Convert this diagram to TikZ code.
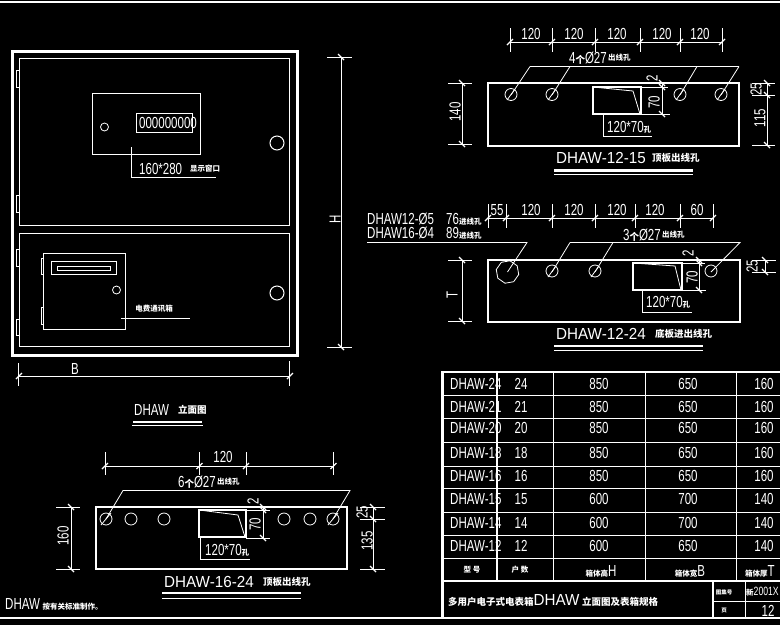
\documentclass[tikz,border=0pt]{standalone}
\usepackage{fontspec}
\usetikzlibrary{shapes.geometric}
\newfontfamily\cad[FakeStretch=0.72]{Liberation Sans}
\newfontfamily\cadw[FakeStretch=0.95]{Liberation Sans}
\newfontfamily\cjk{Noto Sans CJK SC}
\newcommand{\hticks}[2]{\foreach \tx in {#2} {\draw[white, line width=1.2pt] (\tx-3,#1+3) -- (\tx+3,#1-3);}}
\newcommand{\vticks}[2]{\foreach \ty in {#2} {\draw[white, line width=1.2pt] (#1-3,\ty-3) -- (#1+3,\ty+3);}}
\newcommand{\zh}[1]{{\cjk\bfseries\fontsize{7.5}{8}\selectfont #1}}
\newcommand{\zhb}[1]{{\cjk\bfseries\fontsize{9.5}{10}\selectfont #1}}
\newcommand{\zhs}[1]{{\cjk\bfseries\fontsize{5.5}{6}\selectfont #1}}
\newcommand{\gechar}{\zhb{个}}
\begin{document}
\begin{tikzpicture}[
                x=1pt,
                y=-1pt,
                thin line/.style={draw=white, line width=0.8pt},
                mid line/.style={draw=white, line width=1pt},
                heavy line/.style={draw=white, line width=2pt},
                hole/.style={draw=white, line width=0.8pt},
                every node/.style={
                    text=white,
                    inner sep=0,
                    font=\cad\fontsize{16}{16}\selectfont
                },
                wide/.style={font=\cadw\fontsize{16}{16}\selectfont}
            ]
            \useasboundingbox (0,0) rectangle (780,625);
            \fill[black] (0,0) rectangle (780,625);
            \begin{scope}
            \clip (0,0) rectangle (780,625);
            \draw[draw=white, line width=2.4pt] (0,2.2) -- (780,2.2);
            \draw[heavy line] (0,618) -- (780,618);

            % 立面图
            \draw[draw=white, line width=3pt] (12,51) rectangle (297,355);
            \draw[mid line] (19,58) rectangle (289,225);
            \draw[mid line] (19,233) rectangle (289,346);
            \foreach \hy/\hz in {70/87,195/212,249/266,319/335} {
                \draw[thin line] (16,\hy) rectangle (19,\hz);
            }
            \draw[mid line] (92,93) rectangle (200,154);
            \draw[mid line] (136,113) rectangle (192,132);
            \node (meter) at (168,123) {000000000};
            \draw[hole] (104.5,127) circle (4);
            \draw[mid line] (277,143) circle (7);
            \draw[thin line] (131,147) -- (131,177) -- (216,177);
            \node[anchor=west] (winsize) at (139,169) {160*280};
            \node[anchor=west] (wintext) at (190,169) {\zh{显示窗口}};
            \draw[mid line] (43,253) rectangle (125,329);
            \foreach \hy/\hz in {258/274,307/324} {
                \draw[thin line] (41,\hy) rectangle (43,\hz);
            }
            \draw[mid line] (51,261) rectangle (116,274);
            \draw[thin line] (57,266) rectangle (110,270);
            \draw[hole] (116.5,290) circle (4);
            \draw[mid line] (277,293) circle (7);
            \draw[thin line] (121,318) -- (190,318);
            \node (boxtext) at (154,309) {\zh{电费通讯箱}};
            \draw[thin line] (341,57) -- (341,347);
            \draw[thin line] (327,57) -- (352,57);
            \draw[thin line] (327,347) -- (352,347);
            \vticks{341}{57,347}
            \node[rotate=90] (dimH) at (335,219) {H};
            \draw[thin line] (18,376) -- (290,376);
            \draw[thin line] (18,363) -- (18,386);
            \draw[thin line] (289.5,361) -- (289.5,386);
            \hticks{376}{19,290}
            \node (dimB) at (75,369) {B};
            \node[anchor=west] (elev) at (134,410) {DHAW};
            \node[anchor=west] (elevzh) at (178,410) {\zhb{立面图}};
            \draw[draw=white, line width=2.5pt] (133,422) -- (202,422);
            \draw[thin line] (132,425.5) -- (203,425.5);

            % 16-24 顶板
            \draw[heavy line] (96,507) rectangle (347,569);
            \draw[thin line] (105,466) -- (333.5,466);
            \foreach \ex in {105,199.5,246,333.5} {
                \draw[thin line] (\ex,452) -- (\ex,475);
            }
            \hticks{466}{105,199.5,246,333.5}
            \node (a120) at (223,457) {120};
            \node[anchor=east] (anote) at (216,482) {6\gechar Ø27};
            \node[anchor=west] (anotezh) at (217,482) {\zh{出线孔}};
            \draw[thin line] (106,519) -- (123,490.5) -- (350,490.5) -- (333,519);
            \foreach \ax in {106,131,164,284,310,333} {
                \draw[hole] (\ax,519) circle (6);
            }
            \draw[thin line] (101,525) -- (111,513);
            \draw[thin line] (328,525) -- (338,513);
            \draw[heavy line] (199,510) rectangle (246,537);
            \draw[thin line] (199,510) -- (238,515) -- (245,537);
            \draw[thin line] (263,507) -- (263,538);
            \draw[thin line] (246,510) -- (270,510);
            \draw[thin line] (246,538) -- (270,538);
            \vticks{263}{507,510,538}
            \node[rotate=90] (a2) at (253,501) {2};
            \node[rotate=90] (a70) at (255,524) {70};
            \draw[thin line] (200,537) -- (200,559) -- (250,559);
            \node[anchor=west] (asize) at (205,550) {120*70\zh{孔}};
            \draw[thin line] (71,507) -- (71,569);
            \draw[thin line] (56,507) -- (80,507);
            \draw[thin line] (56,569) -- (80,569);
            \vticks{71}{507,569}
            \node[rotate=90] (a160) at (63,536) {160};
            \draw[thin line] (373,507) -- (373,569);
            \draw[thin line] (360,507) -- (385,507);
            \draw[thin line] (360,519) -- (385,519);
            \draw[thin line] (360,569) -- (385,569);
            \vticks{373}{507,519,569}
            \node[rotate=90] (a25) at (362,512) {25};
            \node[rotate=90] (a135) at (367,541) {135};
            \node[wide,anchor=west] (atitle) at (164,582) {DHAW-16-24};
            \node[anchor=west] (atitlezh) at (263,582) {\zhb{顶板出线孔}};
            \draw[draw=white, line width=2.5pt] (162,593) -- (301,593);
            \draw[thin line] (162,598) -- (301,598);
            \node[anchor=east] (notehead) at (3,604) {\zh{注：}};
            \node[anchor=west] (note) at (5,604) {DHAW\,\zh{按有关标准制作。}};

            % 12-15 顶板
            \draw[heavy line] (488,83) rectangle (739,146);
            \draw[thin line] (510,42) -- (722,42);
            \foreach \ex in {510,552,595,640,680,722} {
                \draw[thin line] (\ex,28) -- (\ex,52);
            }
            \hticks{42}{510,552,595,640,680,722}
            \foreach \lx/\ln in {531/b,574/c,617/d,662/e,700/f} {
                \node (top\ln) at (\lx,34) {120};
            }
            \node[anchor=east] (bnote) at (607,58) {4\gechar Ø27};
            \node[anchor=west] (bnotezh) at (608,58) {\zh{出线孔}};
            \draw[thin line] (530,66.5) -- (739,66.5);
            \foreach \hx/\dx in {511/530,552/570,680/697,721/739} {
                \draw[thin line] (\hx,95) -- (\dx,66.5);
                \draw[hole] (\hx,94.5) circle (6);
                \draw[thin line] (\hx-4,100) -- (\hx+4,89);
            }
            \draw[heavy line] (593,87) rectangle (641,114);
            \draw[thin line] (593,87) -- (633,91) -- (640,114);
            \draw[thin line] (662,83) -- (662,114);
            \draw[thin line] (642,87) -- (668,87);
            \draw[thin line] (642,114) -- (670,114);
            \vticks{662}{83,87,114}
            \node[rotate=90] (b2) at (652,78) {2};
            \node[rotate=90] (b70) at (654,102) {70};
            \draw[thin line] (603,114) -- (603,136) -- (652,136);
            \node[anchor=west] (bsize) at (607,127) {120*70\zh{孔}};
            \draw[thin line] (462,83) -- (462,144);
            \draw[thin line] (448,83) -- (472,83);
            \draw[thin line] (448,144) -- (472,144);
            \vticks{462}{83,144}
            \node[rotate=90] (b140) at (455,112) {140};
            \draw[thin line] (767,83) -- (767,145);
            \draw[thin line] (752,83) -- (775,83);
            \draw[thin line] (752,95) -- (775,95);
            \draw[thin line] (752,145) -- (775,145);
            \vticks{767}{83,95,145}
            \node[rotate=90] (b25) at (756,89) {25};
            \node[rotate=90] (b115) at (760,118) {115};
            \node[wide,anchor=west] (btitle) at (556,158) {DHAW-12-15};
            \node[anchor=west] (btitlezh) at (652,158) {\zhb{顶板出线孔}};
            \draw[draw=white, line width=2.5pt] (554,170.5) -- (693,170.5);
            \draw[thin line] (554,174) -- (693,174);

            % 12-24 底板
            \node[anchor=west] (c1) at (367,219) {DHAW12-Ø5};
            \node[anchor=west] (c2) at (367,233) {DHAW16-Ø4};
            \node[anchor=west] (c3) at (446,219) {76\zh{进线孔}};
            \node[anchor=west] (c4) at (446,233) {89\zh{进线孔}};
            \draw[heavy line] (488,260) rectangle (740,322);
            \draw[thin line] (488,218) -- (713,218);
            \foreach \ex in {488,506,552,595,635,680,713} {
                \draw[thin line] (\ex,204) -- (\ex,228);
            }
            \hticks{218}{488,506,552,595,635,680,713}
            \foreach \lx/\lt/\ln in {497/55/a,531/120/b,574/120/c,617/120/d,655/120/e,697/60/f} {
                \node (cdim\ln) at (\lx,210) {\lt};
            }
            \node[anchor=east] (cnote) at (661,235) {3\gechar Ø27};
            \node[anchor=west] (cnotezh) at (662,235) {\zh{出线孔}};
            \node[regular polygon, regular polygon sides=8, shape border rotate=10, hole, minimum size=23pt] (bighole) at (507.5,272) {};
            \draw[thin line] (367,242.5) -- (527,242.5) -- (bighole.center);
            \draw[thin line] (570,242.5) -- (740,242.5) -- (711,272);
            \foreach \hx/\dx in {552/570,595/613} {
                \draw[thin line] (\hx,272) -- (\dx,242.5);
                \draw[hole] (\hx,271) circle (6);
                \draw[thin line] (\hx-4,277) -- (\hx+4,266);
            }
            \draw[hole] (711,271) circle (6);
            \draw[heavy line] (633,263) rectangle (682,290);
            \draw[thin line] (633,263) -- (675,266) -- (681,290);
            \draw[thin line] (699,260) -- (699,290);
            \draw[thin line] (683,263) -- (705,263);
            \draw[thin line] (683,290) -- (706,290);
            \vticks{699}{260,263,290}
            \node[rotate=90] (c2mm) at (688,253) {2};
            \node[rotate=90] (c70) at (692,277) {70};
            \draw[thin line] (642,291) -- (642,312) -- (692,312);
            \node[anchor=west] (csize) at (646,302) {120*70\zh{孔}};
            \draw[thin line] (462,260) -- (462,321);
            \draw[thin line] (448,260) -- (472,260);
            \draw[thin line] (448,321) -- (472,321);
            \vticks{462}{260,321}
            \node[rotate=90] (cT) at (452,295) {T};
            \draw[thin line] (765,260) -- (765,272);
            \draw[thin line] (752,260) -- (776,260);
            \draw[thin line] (752,272) -- (776,272);
            \vticks{765}{260,272}
            \node[rotate=90] (c25) at (752,266) {25};
            \node[wide,anchor=west] (ctitle) at (556,334) {DHAW-12-24};
            \node[anchor=west] (ctitlezh) at (655,334) {\zhb{底板进出线孔}};
            \draw[draw=white, line width=2.5pt] (554,346) -- (703,346);
            \draw[thin line] (554,350) -- (703,350);

            % 规格表
            \draw[thin line] (441,372) -- (441,618);
            \draw[draw=white, line width=2.5pt] (441,372) -- (780,372);
            \foreach \ly in {395,418,442,466,488,512,535,558} {
                \draw[thin line] (443,\ly) -- (780,\ly);
            }
            \draw[draw=white, line width=2.5pt] (443,581) -- (780,581);
            \draw[heavy line] (443,373) -- (443,618);
            \draw[heavy line] (497,373) -- (497,581);
            \foreach \cx in {553,645,736} {
                \draw[thin line] (\cx,373) -- (\cx,581);
            }
            \draw[heavy line] (713,581) -- (713,618);
            \draw[thin line] (745,581) -- (745,618);
            \draw[thin line] (713,601) -- (780,601);
            \foreach \ry/\rk/\rh/\rb/\rt in {384/24/850/650/160,407/21/850/650/160,428/20/850/650/160,
                    453/18/850/650/160,476/16/850/650/160,499/15/600/700/140,523/14/600/700/140,546/12/600/650/140} {
                \node[anchor=west] (m\rk) at (450,\ry) {DHAW-\rk};
                \node (k\rk) at (521,\ry) {\rk};
                \node (h\rk) at (599,\ry) {\rh};
                \node (b\rk) at (688,\ry) {\rb};
                \node (t\rk) at (764,\ry) {\rt};
            }
            \node (h1) at (472,570) {\zh{型 号}};
            \node (h2) at (520,570) {\zh{户 数}};
            \node (h3) at (601,571) {\zh{箱体高}H};
            \node (h4) at (690,571) {\zh{箱体宽}B};
            \node (h5) at (760,571) {\zh{箱体厚}T};
            \node[anchor=west] (ttl) at (448,600) {\zhb{多用户电子式电表箱}{\cadw DHAW}\,\zhb{立面图及表箱规格}};
            \node (i1) at (724,592) {\zhs{图集号}};
            \node[anchor=west] (i2) at (746,592) {\zh{新}\fontsize{12}{12}\selectfont 2001X};
            \node (i3) at (724,611) {\zhs{页}};
            \node (i4) at (768,611) {12};
            \end{scope}
            \end{tikzpicture}
\end{document}
